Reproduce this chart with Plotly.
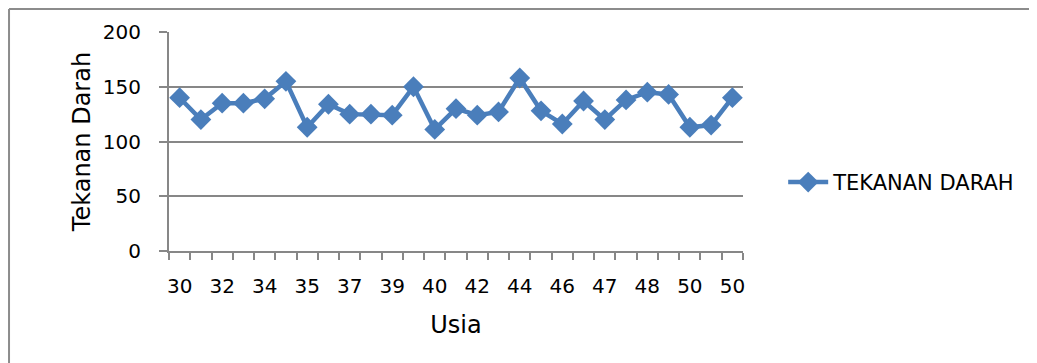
import plotly.graph_objects as go

ages = ["30", "31", "32", "33", "34", "34", "35", "36", "37", "38", "39", "40", "40",
        "41", "42", "43", "44", "45", "46", "46", "47", "48", "48", "49", "50", "50", "50"]
tekanan = [140, 120, 135, 135, 139, 155, 113, 134, 125, 125, 124, 150, 111,
           130, 124, 127, 158, 128, 116, 137, 120, 138, 145, 143, 113, 115, 140]
series_name = "TEKANAN DARAH"
y_ticks = [0, 50, 100, 150, 200]

idx = list(range(len(ages)))
shown = idx[::2]

FONT = "Tahoma, DejaVu Sans, sans-serif"
BLUE = "#4A7EBB"
GRID = "#878787"

fig = go.Figure()
fig.add_trace(go.Scatter(
    x=idx, y=tekanan, mode="lines+markers", name=series_name,
    line=dict(color=BLUE, width=4.5),
    marker=dict(symbol="diamond", size=16, color=BLUE),
))

fig.update_layout(
    width=1037, height=363,
    margin=dict(l=161, r=302, t=24, b=120),
    paper_bgcolor="white", plot_bgcolor="white",
    font=dict(family=FONT, size=20, color="black"),
    showlegend=True,
    legend=dict(x=1.07, y=0.313, xanchor="left", yanchor="middle",
                font=dict(family=FONT, size=21), itemwidth=40,
                bgcolor="rgba(0,0,0,0)"),
    xaxis=dict(
        range=[-0.5, len(ages) - 0.5],
        tickmode="array", tickvals=shown, ticktext=[ages[i] for i in shown],
        ticks="", showgrid=False, zeroline=False,
        showline=True, linecolor=GRID, linewidth=2,
        minor=dict(tickmode="linear", tick0=-0.5, dtick=1, ticks="outside",
                   ticklen=7, tickcolor=GRID, tickwidth=2, showgrid=False),
        tickfont=dict(size=20), ticklabelstandoff=16,
        title=dict(text="Usia", font=dict(size=24), standoff=19),
    ),
    yaxis=dict(
        range=[0, 200], tickmode="array", tickvals=y_ticks,
        ticks="outside", ticklen=8, tickcolor=GRID, tickwidth=2,
        showgrid=True, gridcolor=GRID, gridwidth=2,
        zeroline=False, showline=True, linecolor=GRID, linewidth=2,
        tickfont=dict(size=20), ticklabelstandoff=14,
        title=dict(text="Tekanan Darah", font=dict(size=24), standoff=5),
    ),
)

# chart frame (left and top edges, as in the reference)
fig.add_shape(type="line", xref="paper", yref="paper",
              x0=-0.2787, x1=-0.2787, y0=1.105, y1=-0.6,
              line=dict(color="#8C8C8C", width=2))
fig.add_shape(type="line", xref="paper", yref="paper",
              x0=-0.2787, x1=1.55, y0=1.105, y1=1.105,
              line=dict(color="#8C8C8C", width=2))

fig.write_html("out.html")
